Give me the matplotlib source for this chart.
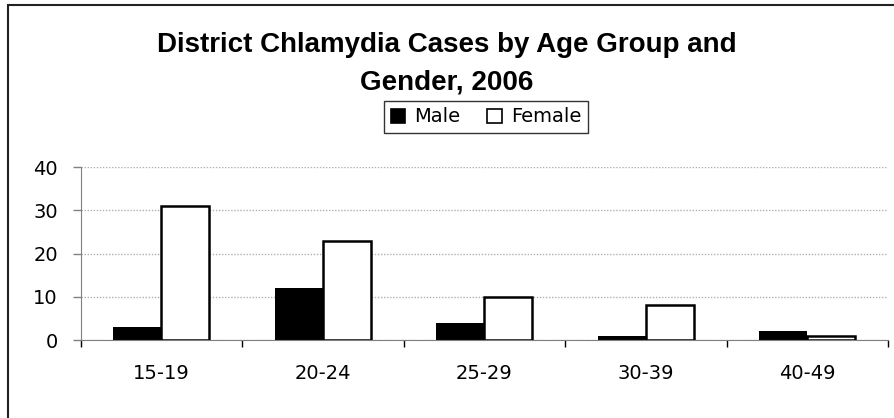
import numpy as np
import matplotlib.pyplot as plt
from matplotlib.patches import Rectangle

plt.rcParams['font.family'] = ['DejaVu Sans']

# data
age_groups = ['15-19', '20-24', '25-29', '30-39', '40-49']
male = [3, 12, 4, 1, 2]
female = [31, 23, 10, 8, 1]

W, H = 894, 418
fig = plt.figure(figsize=(W / 100, H / 100), dpi=100)
ax = fig.add_axes([80.7 / W, 78 / H, (888 - 80.7) / W, 172.7 / H])

x = np.arange(len(age_groups))
w = 0.297
ax.bar(x - w/2, male, w, color='black', edgecolor='black', linewidth=0, label='Male')
ax.bar(x + w/2, female, w, color='white', edgecolor='black', linewidth=1.8, label='Female')

ax.set_xlim(-0.5, len(age_groups) - 0.5)
ax.set_ylim(0, 40)
ax.set_yticks([0, 10, 20, 30, 40])
ax.yaxis.grid(True, linestyle=(0, (1, 1.2)), color='#b0b0b0', linewidth=1)
ax.set_axisbelow(True)

ax.set_xticks(x)
ax.set_xticklabels(age_groups, fontsize=14)
ax.set_xticks(np.arange(len(age_groups) + 1) - 0.5, minor=True)
ax.tick_params(axis='x', which='major', length=0, pad=17)
ax.tick_params(axis='x', which='minor', length=5, width=1, color='black', direction='out')
ax.tick_params(axis='y', labelsize=14, length=5.8, width=1, color='#808080', pad=10.6)

for s in ['top', 'right']:
    ax.spines[s].set_visible(False)
ax.spines['left'].set_color('#808080')
ax.spines['bottom'].set_color('#808080')

fig.text(0.5, 1 - 52 / H, 'District Chlamydia Cases by Age Group and', ha='center', va='baseline',
         fontsize=20, fontweight='bold', family='Liberation Sans')
fig.text(0.5, 1 - 90 / H, 'Gender, 2006', ha='center', va='baseline',
         fontsize=20, fontweight='bold', family='Liberation Sans')

leg = fig.legend(loc='center', bbox_to_anchor=(486 / W, 1 - 117 / H), ncol=2, fontsize=14,
                 frameon=True, fancybox=False, handlelength=0.75, handleheight=0.75,
                 handletextpad=0.45, columnspacing=1.4, borderpad=0.35, borderaxespad=0)
leg.get_frame().set_edgecolor('black')
leg.get_frame().set_linewidth(1)
for h in leg.legend_handles:
    h.set_linewidth(1.2)

# chart area border (right and bottom edges fall outside the image)
fig.patches.append(Rectangle((8 / W, -0.1), 1.1, 1.1 - 5 / H + 0.0, transform=fig.transFigure,
                             fill=False, edgecolor='#222222', linewidth=1.5))

fig.savefig('out.png', dpi=100)
